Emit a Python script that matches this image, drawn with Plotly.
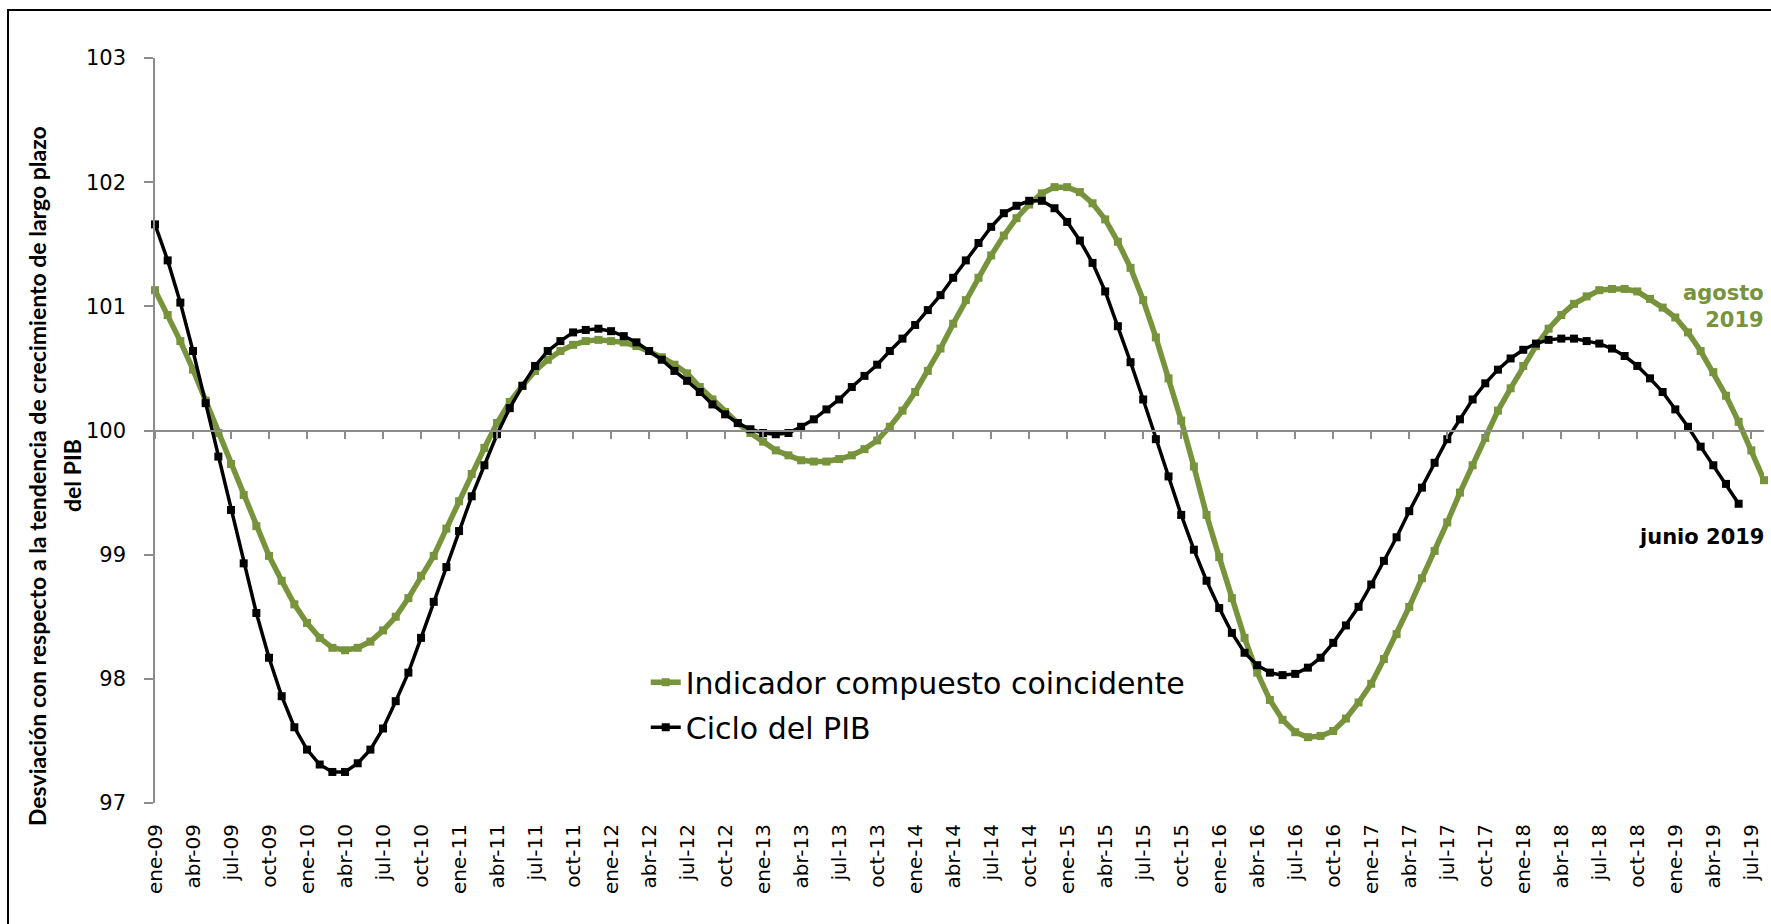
import plotly.graph_objects as go

# month labels (ene-09 ... ago-19)
MESES = ["ene", "feb", "mar", "abr", "may", "jun", "jul", "ago", "sep", "oct", "nov", "dic"]
FECHAS = [f"{m}-{y:02d}" for y in range(9, 20) for m in MESES][:128]

# Indicador compuesto coincidente (ene-09 .. ago-19)
INDICADOR = [
    101.13, 100.93, 100.72, 100.49, 100.24, 99.98, 99.73, 99.48, 99.23, 98.99, 98.79, 98.60,
    98.45, 98.33, 98.25, 98.23, 98.25, 98.30, 98.39, 98.50, 98.65, 98.83, 98.99, 99.21,
    99.43, 99.65, 99.86, 100.06, 100.23, 100.36, 100.48, 100.57, 100.64, 100.69, 100.72, 100.73,
    100.72, 100.71, 100.68, 100.64, 100.59, 100.53, 100.46, 100.35, 100.25, 100.15, 100.06, 99.98,
    99.91, 99.84, 99.80, 99.76, 99.75, 99.75, 99.77, 99.80, 99.85, 99.92, 100.03, 100.16,
    100.31, 100.48, 100.66, 100.86, 101.05, 101.23, 101.41, 101.57, 101.71, 101.82, 101.91, 101.96,
    101.96, 101.92, 101.83, 101.70, 101.52, 101.31, 101.05, 100.75, 100.42, 100.08, 99.71, 99.32,
    98.98, 98.65, 98.33, 98.05, 97.83, 97.67, 97.57, 97.53, 97.54, 97.58, 97.68, 97.81,
    97.96, 98.16, 98.36, 98.58, 98.81, 99.03, 99.26, 99.50, 99.72, 99.94, 100.16, 100.34,
    100.52, 100.68, 100.82, 100.93, 101.02, 101.08, 101.13, 101.14, 101.14, 101.12, 101.06, 100.99,
    100.91, 100.79, 100.64, 100.47, 100.28, 100.07, 99.84, 99.60,
]

# Ciclo del PIB (ene-09 .. jun-19)
CICLO_PIB = [
    101.66, 101.37, 101.03, 100.64, 100.22, 99.79, 99.36, 98.93, 98.53, 98.17, 97.86, 97.61,
    97.43, 97.31, 97.25, 97.25, 97.32, 97.43, 97.60, 97.82, 98.05, 98.33, 98.62, 98.90,
    99.19, 99.47, 99.72, 99.97, 100.18, 100.36, 100.52, 100.64, 100.72, 100.79, 100.81, 100.82,
    100.80, 100.76, 100.71, 100.64, 100.57, 100.48, 100.40, 100.31, 100.21, 100.13, 100.06, 100.01,
    99.98, 99.97, 99.98, 100.03, 100.09, 100.17, 100.25, 100.35, 100.44, 100.53, 100.64, 100.74,
    100.85, 100.97, 101.09, 101.23, 101.37, 101.51, 101.64, 101.75, 101.81, 101.85, 101.85, 101.79,
    101.68, 101.53, 101.35, 101.12, 100.84, 100.55, 100.25, 99.93, 99.63, 99.32, 99.04, 98.79,
    98.57, 98.37, 98.21, 98.11, 98.05, 98.03, 98.04, 98.09, 98.17, 98.29, 98.43, 98.58,
    98.76, 98.95, 99.14, 99.35, 99.54, 99.74, 99.93, 100.09, 100.25, 100.38, 100.49, 100.58,
    100.65, 100.70, 100.73, 100.74, 100.74, 100.72, 100.70, 100.66, 100.60, 100.52, 100.42, 100.31,
    100.17, 100.03, 99.87, 99.72, 99.57, 99.41,
]

TICK_LABELS = FECHAS[::3]

VERDE = "#77933C"
GRIS = "#8C8C8C"
W, H = 1771, 924
ML, MR, MT, MB = 155, 7, 58, 121

fig = go.Figure()
fig.add_trace(go.Scatter(
    x=FECHAS, y=INDICADOR, name="Indicador compuesto coincidente",
    mode="lines+markers", line=dict(color=VERDE, width=5.5),
    marker=dict(symbol="square", size=8, color=VERDE),
    cliponaxis=False, legendgroup="a",
))
# black series on an overlaid x axis, which also draws the axis line at 100
fig.add_trace(go.Scatter(
    x=FECHAS[:len(CICLO_PIB)], y=CICLO_PIB, name="Ciclo del PIB", xaxis="x2",
    mode="lines+markers", line=dict(color="black", width=3.5),
    marker=dict(symbol="square", size=8, color="black"),
    cliponaxis=False, legendgroup="b",
))

fig.update_layout(
    width=W, height=H,
    margin=dict(l=ML, r=MR, t=MT, b=MB, autoexpand=False),
    paper_bgcolor="white", plot_bgcolor="white",
    showlegend=True,
    legend=dict(
        x=0.305, y=0.197, xanchor="left", yanchor="top",
        font=dict(family="DejaVu Sans", size=30, color="black"),
        bgcolor="rgba(0,0,0,0)", tracegroupgap=3, traceorder="grouped",
    ),
    xaxis=dict(
        type="category", categoryorder="array", categoryarray=FECHAS,
        range=[0, len(FECHAS) - 1], tickmode="array",
        tickvals=TICK_LABELS, ticktext=TICK_LABELS, tickangle=-90,
        showline=False, showgrid=False, zeroline=False, ticks="",
        tickfont=dict(family="DejaVu Sans", size=20, color="black"),
        ticklabelstandoff=16, automargin=False,
    ),
    xaxis2=dict(
        type="category", categoryorder="array", categoryarray=FECHAS,
        overlaying="x", matches="x", anchor="free", position=0.5, side="bottom",
        tickmode="array", tickvals=TICK_LABELS, showticklabels=False,
        ticks="outside", ticklen=8, tickwidth=1.5, tickcolor=GRIS,
        showline=True, linecolor=GRIS, linewidth=1.5,
        showgrid=False, zeroline=False,
    ),
    yaxis=dict(
        range=[97, 103], tickmode="linear", tick0=97, dtick=1,
        showline=True, linecolor=GRIS, linewidth=1.5,
        ticks="outside", ticklen=9, tickwidth=1.5, tickcolor=GRIS,
        showgrid=False, zeroline=False,
        tickfont=dict(family="DejaVu Sans", size=21, color="black"),
        ticklabelstandoff=14, automargin=False,
    ),
)

titulo = dict(family="Lato", size=23, color="black", weight="bold")
pw, ph = W - ML - MR, H - MT - MB
fig.add_annotation(
    text="Desviación con respecto a la tendencia de crecimiento de largo plazo",
    xref="paper", yref="paper", x=(37 - ML) / pw, y=(H - MB - 476) / ph,
    xanchor="center", yanchor="middle", textangle=-90, showarrow=False, font=titulo,
)
fig.add_annotation(
    text="del PIB",
    xref="paper", yref="paper", x=(72 - ML) / pw, y=(H - MB - 476) / ph,
    xanchor="center", yanchor="middle", textangle=-90, showarrow=False, font=titulo,
)

nota = dict(family="DejaVu Sans", size=21, weight="bold")
fig.add_annotation(
    text="agosto<br>2019", xref="paper", yref="y", x=1.001, y=101.0,
    xanchor="right", yanchor="middle", align="right", showarrow=False,
    font=dict(nota, color=VERDE),
)
fig.add_annotation(
    text="junio 2019", xref="paper", yref="y", x=1.001, y=99.14,
    xanchor="right", yanchor="middle", align="right", showarrow=False,
    font=dict(nota, color="black"),
)

# outer chart border (only left and top edges fall inside the picture)
fig.add_shape(
    type="rect", xref="paper", yref="paper",
    x0=(8 - ML) / pw, x1=1.2, y0=-0.5, y1=(H - MB - 10) / ph,
    line=dict(color="black", width=2), layer="below",
)

# drop the default body margin so the figure sits at the page origin
fig.write_html(
    "out.html",
    config={"displayModeBar": False},
    post_script="document.body.style.margin='0px';",
)
